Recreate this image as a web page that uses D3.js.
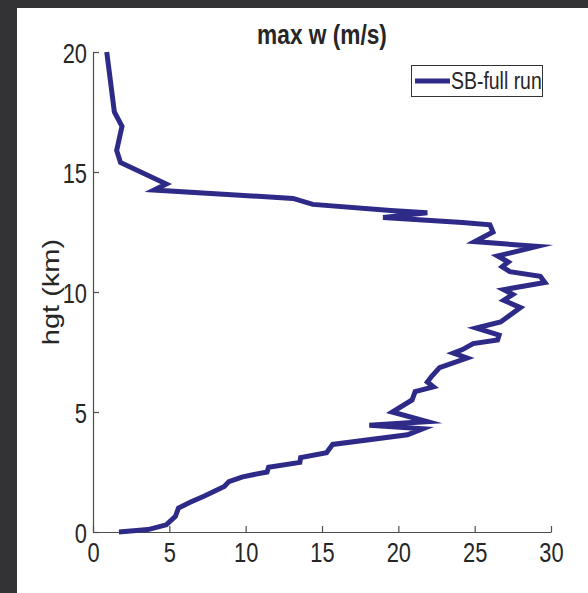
<!DOCTYPE html>
<html>
<head>
<meta charset="utf-8">
<script src="https://cdn.jsdelivr.net/npm/d3@7"></script>
<style>
  html, body { margin: 0; padding: 0; background: #333335; }
  svg { display: block; }
  text { font-family: "Liberation Sans", Arial, Helvetica, sans-serif; fill: #262626; }
</style>
</head>
<body>
<svg id="chart" width="588" height="593"></svg>
<script>
// ---- data ----
const maxW = [0.9, 1.4, 1.9, 1.55, 1.8, 4.8, 4.0, 13.1, 14.4, 19.5, 21.9, 19.0, 24.2, 26.0, 26.2, 25.0,
  29.1, 26.5, 27.2, 26.8, 27.3, 29.3, 29.6, 26.9, 27.5, 26.9, 28.0, 26.7, 25.1, 26.6, 26.5, 24.9,
  24.2, 23.6, 24.5, 22.7, 22.2, 21.9, 22.3, 21.1, 20.9, 19.6, 21.9, 18.1, 21.6, 20.6, 15.7, 15.3,
  13.6, 13.55, 11.5, 11.4, 9.8, 8.9, 8.6, 7.3, 6.4, 5.6, 5.4, 4.8, 3.6, 1.7];
const hgt = [20.0, 17.5, 16.9, 15.9, 15.4, 14.5, 14.25, 13.9, 13.65, 13.4, 13.3, 13.1, 12.9, 12.8, 12.5, 12.1,
  11.9, 11.5, 11.25, 11.05, 10.85, 10.65, 10.4, 10.1, 9.9, 9.65, 9.35, 8.75, 8.5, 8.2, 8.0, 7.85,
  7.6, 7.45, 7.25, 6.85, 6.5, 6.25, 6.05, 5.85, 5.5, 5.0, 4.6, 4.45, 4.3, 4.05, 3.65, 3.3,
  3.1, 2.9, 2.7, 2.5, 2.3, 2.1, 1.9, 1.5, 1.25, 1.0, 0.65, 0.3, 0.1, 0.0];
const xTicks = [0, 5, 10, 15, 20, 25, 30];
const yTicks = [0, 5, 10, 15, 20];
const seriesName = "SB-full run";
const titleText = "max w (m/s)";
const yLabelText = "hgt (km)";

// ---- layout ----
const svg = d3.select("#chart");
const SQ = 0.81; // horizontal squeeze of the original image's text
const lineColor = "#2e2a88";

// white panel
svg.append("rect").attr("x", 17).attr("y", 8).attr("width", 588 - 17).attr("height", 593 - 8).attr("fill", "#ffffff");

const x = d3.scaleLinear().domain([0, 30]).range([93, 551]);
const y = d3.scaleLinear().domain([0, 20]).range([532, 52]);

// axes
const axisColor = "#4d4d4d";
const xAxis = svg.append("g").attr("transform", `translate(0,${y(0)})`)
  .call(d3.axisBottom(x).tickValues(xTicks).tickSizeInner(-6).tickSizeOuter(0).tickFormat(d3.format("d")));
const yAxis = svg.append("g").attr("transform", `translate(${x(0)},0)`)
  .call(d3.axisLeft(y).tickValues(yTicks).tickSizeInner(-6).tickSizeOuter(0).tickFormat(d3.format("d")));

[xAxis, yAxis].forEach(g => {
  g.select(".domain").attr("stroke", axisColor).attr("stroke-width", 1.2);
  g.selectAll(".tick line").attr("stroke", axisColor).attr("stroke-width", 1.2);
});
xAxis.selectAll(".tick text").each(function () {
  const t = d3.select(this);
  t.attr("y", null).attr("dy", null).attr("x", null)
   .attr("transform", `translate(0,30) scale(${SQ},1)`)
   .attr("font-size", 27).attr("fill", "#262626")
   .attr("font-family", "Liberation Sans, Arial, sans-serif");
});
yAxis.selectAll(".tick text").each(function () {
  const t = d3.select(this);
  t.attr("x", null).attr("dy", null)
   .attr("transform", `translate(-6,10) scale(${SQ},1)`)
   .attr("font-size", 27).attr("fill", "#262626")
   .attr("font-family", "Liberation Sans, Arial, sans-serif");
});

// data line
const pts = maxW.map((v, i) => [v, hgt[i]]);
svg.append("path")
  .datum(pts)
  .attr("fill", "none")
  .attr("stroke", lineColor)
  .attr("stroke-width", 5)
  .attr("stroke-linejoin", "miter")
  .attr("stroke-miterlimit", 10)
  .attr("d", d3.line().x(d => x(d[0])).y(d => y(d[1])));

// title
svg.append("text")
  .attr("transform", `translate(${x(15)},44) scale(${SQ},1)`)
  .attr("text-anchor", "middle")
  .attr("font-size", 28)
  .attr("font-weight", "bold")
  .attr("fill", "#000")
  .text(titleText);

// y label
svg.append("text")
  .attr("transform", `translate(59,${y(10)}) scale(${SQ},1) rotate(-90)`)
  .attr("text-anchor", "middle")
  .attr("font-size", 29)
  .attr("fill", "#262626")
  .text(yLabelText);

// legend
const lg = svg.append("g");
lg.append("rect").attr("x", 411.5).attr("y", 65.5).attr("width", 131).attr("height", 31)
  .attr("fill", "#fff").attr("stroke", "#333").attr("stroke-width", 1);
lg.append("line").attr("x1", 415).attr("x2", 450).attr("y1", 81).attr("y2", 81)
  .attr("stroke", lineColor).attr("stroke-width", 5);
lg.append("text")
  .attr("transform", `translate(451,89) scale(${SQ},1)`)
  .attr("font-size", 24).attr("fill", "#000")
  .text(seriesName);
</script>
</body>
</html>
